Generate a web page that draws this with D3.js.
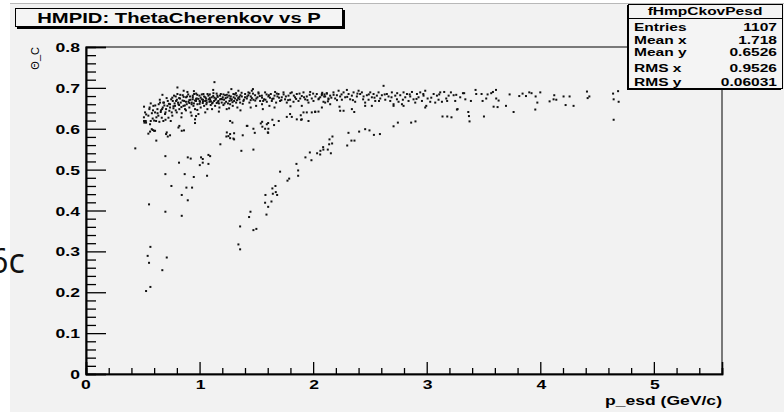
<!DOCTYPE html>
<html><head><meta charset="utf-8">
<script src="https://cdn.jsdelivr.net/npm/d3@7/dist/d3.min.js"></script>
<style>body{margin:0;background:#fff}svg{display:block}text{font-family:"Liberation Sans",Arial,sans-serif}</style>
</head><body><svg id="c" width="784" height="412"></svg>
<script>
const titleText = "HMPID: ThetaCherenkov vs P";
const xLabel = "p_esd (GeV/c)";
const yLabel = "\u0398_C";
const sideText = "6c";
const xTicks = [0, 1, 2, 3, 4, 5];
const xTickLabels = ["0", "1", "2", "3", "4", "5"];
const yTicks = [0, 0.1, 0.2, 0.3, 0.4, 0.5, 0.6, 0.7, 0.8];
const yTickLabels = ["0", "0.1", "0.2", "0.3", "0.4", "0.5", "0.6", "0.7", "0.8"];
const xDomain = [0, 5.6];
const yDomain = [0, 0.8];
const statsTitle = "fHmpCkovPesd";
const statsNames = ["Entries", "Mean x", "Mean y", "RMS x", "RMS y"];
const statsValues = ["1107", "1.718", "0.6526", "0.9526", "0.06031"];

// pion band (p, theta)
const pionBand = [
[0.511,0.654],[0.520,0.640],[0.511,0.619],[0.529,0.615],[0.549,0.632],[0.558,0.648],[0.570,0.619],[0.579,0.599],[0.587,0.625],[0.593,0.656],
[0.599,0.595],[0.608,0.640],[0.617,0.619],[0.629,0.648],[0.637,0.632],[0.646,0.617],[0.652,0.664],[0.658,0.641],[0.667,0.627],[0.676,0.652],
[0.681,0.619],[0.687,0.664],[0.696,0.636],[0.705,0.648],[0.711,0.591],[0.717,0.656],[0.726,0.627],[0.734,0.644],[0.740,0.660],[0.746,0.619],
[0.755,0.640],[0.764,0.668],[0.770,0.650],[0.775,0.681],[0.784,0.656],[0.793,0.668],[0.799,0.640],[0.805,0.685],[0.814,0.660],[0.822,0.648],
[0.828,0.674],[0.834,0.664],[0.843,0.638],[0.852,0.682],[0.858,0.656],[0.864,0.668],[0.872,0.648],[0.881,0.677],[0.887,0.660],[0.893,0.690],
[0.902,0.666],[0.910,0.652],[0.916,0.679],[0.922,0.640],[0.931,0.664],[0.940,0.672],[0.946,0.656],[0.952,0.685],[0.960,0.648],[0.969,0.668],
[0.975,0.674],[0.981,0.660],[0.990,0.636],[0.999,0.681],[1.004,0.666],[1.010,0.652],[1.019,0.672],[1.028,0.663],[1.034,0.685],[1.040,0.656],
[1.049,0.668],[1.057,0.674],[1.063,0.664],[1.069,0.648],[1.078,0.681],[1.087,0.666],[1.093,0.671],[1.098,0.658],[1.107,0.677],[1.116,0.664],
[1.122,0.687],[1.128,0.668],[1.137,0.656],[1.145,0.674],[1.151,0.663],[1.157,0.681],[1.166,0.668],[1.175,0.652],[1.181,0.672],[1.187,0.685],
[1.195,0.664],[1.204,0.677],[1.210,0.658],[1.216,0.671],[1.225,0.682],[1.233,0.666],[1.239,0.648],[1.245,0.677],[1.254,0.689],[1.263,0.668],
[1.269,0.660],[1.275,0.679],[1.283,0.672],[1.292,0.656],[1.298,0.685],[1.304,0.668],[1.313,0.674],[1.322,0.664],[1.327,0.681],[1.333,0.652],
[1.342,0.693],[1.351,0.672],[1.357,0.664],[1.372,0.679],[1.386,0.668],[1.401,0.685],[1.416,0.674],[1.430,0.689],[1.439,0.664],[1.451,0.679],
[1.460,0.693],[1.474,0.671],[1.489,0.682],[1.498,0.656],[1.510,0.677],[1.518,0.689],[1.533,0.668],[1.548,0.681],[1.557,0.648],[1.568,0.672],
[1.577,0.689],[1.592,0.666],[1.606,0.679],[1.615,0.656],[1.627,0.685],[1.636,0.668],[1.651,0.674],[1.665,0.690],[1.674,0.664],[1.686,0.679],
[1.695,0.685],[1.709,0.668],[1.724,0.677],[1.739,0.689],[1.753,0.672],[1.768,0.664],[1.783,0.681],[1.797,0.671],[1.812,0.689],[1.827,0.666],
[1.841,0.677],[1.856,0.685],[1.871,0.668],[1.886,0.674],[1.900,0.656],[1.915,0.689],[1.930,0.672],[1.944,0.679],[1.959,0.664],[1.974,0.690],
[1.988,0.674],[2.003,0.668],[2.018,0.641],[2.032,0.685],[2.047,0.672],[2.062,0.677],[2.076,0.682],[2.091,0.666],[2.106,0.679],[2.120,0.687],
[2.135,0.672],[2.150,0.681],
[2.077,0.685],[2.097,0.679],[2.121,0.686],[2.135,0.674],[2.179,0.689],[2.194,0.674],[2.209,0.682],[2.224,0.693],[2.238,0.679],[2.253,0.671],
[2.268,0.689],[2.282,0.677],[2.297,0.695],[2.312,0.685],[2.326,0.672],[2.341,0.681],[2.356,0.689],[2.370,0.666],[2.385,0.679],[2.400,0.693],
[2.414,0.685],[2.429,0.689],[2.444,0.679],[2.458,0.664],[2.473,0.682],[2.488,0.671],[2.503,0.689],[2.517,0.677],[2.532,0.685],[2.547,0.668],
[2.561,0.681],[2.576,0.689],[2.591,0.674],[2.605,0.682],[2.620,0.705],[2.635,0.671],[2.649,0.685],[2.664,0.679],[2.679,0.668],[2.693,0.689],
[2.708,0.660],[2.723,0.681],[2.738,0.672],[2.752,0.666],[2.767,0.682],[2.782,0.660],[2.796,0.689],[2.811,0.677],[2.826,0.685],[2.840,0.668],
[2.855,0.679],[2.870,0.690],[2.884,0.672],[2.899,0.664],[2.914,0.685],[2.928,0.677],[2.943,0.689],[2.958,0.668],[2.972,0.681],[2.987,0.693],
[2.996,0.656],[3.008,0.674],[3.031,0.666],[3.061,0.685],[3.075,0.664],[3.090,0.681],[3.104,0.671],[3.119,0.689],[3.134,0.666],[3.154,0.690],
[3.172,0.674],[3.193,0.681],[3.213,0.689],[3.237,0.682],[3.251,0.668],[3.272,0.648],[3.295,0.677],[3.319,0.687],[3.340,0.672],
[2.077,0.652],[2.106,0.664],[2.150,0.660],[2.232,0.654],[2.238,0.644],[2.268,0.644],[2.341,0.648],[2.362,0.641],[2.458,0.656],[2.517,0.656],
[2.708,0.656],[2.796,0.656],[2.987,0.652],
[3.330,0.687],[3.389,0.668],[3.430,0.695],[3.436,0.685],[3.483,0.685],[3.492,0.668],[3.524,0.674],[3.536,0.684],[3.568,0.687],[3.583,0.690],
[3.610,0.695],[3.612,0.674],[3.589,0.654],[3.624,0.653],[3.633,0.669],[3.698,0.656],[3.730,0.684],[3.815,0.680],[3.844,0.686],[3.874,0.680],
[3.903,0.689],[3.923,0.687],[3.959,0.679],[3.974,0.664],[4.000,0.689],[4.082,0.667],[4.117,0.672],[4.123,0.682],[4.141,0.671],[4.205,0.679],
[4.223,0.658],[4.258,0.679],[4.293,0.656],[4.411,0.691],[4.417,0.675],[4.432,0.679],[4.641,0.686],[4.646,0.672],[4.685,0.692],[4.690,0.666],
[0.805,0.701],[1.131,0.714],[0.673,0.683]
];

// dense core of the pion band
const pionCore = [
[0.72,0.668],[0.74,0.652],[0.76,0.676],[0.78,0.662],[0.80,0.671],[0.82,0.658],[0.83,0.683],[0.85,0.669],[0.87,0.657],[0.89,0.679],
[0.91,0.663],[0.92,0.671],[0.94,0.681],[0.95,0.662],[0.97,0.673],[0.98,0.683],[1.00,0.668],[1.01,0.676],[1.03,0.671],[1.04,0.679],
[1.06,0.669],[1.07,0.685],[1.09,0.675],[1.11,0.662],[1.12,0.680],[1.14,0.671],[1.16,0.678],[1.17,0.662],[1.19,0.673],[1.21,0.684],
[1.23,0.675],[1.25,0.662],[1.26,0.681],[1.28,0.670],[1.30,0.677],[1.32,0.687],[1.34,0.675],[1.36,0.682],[1.38,0.661],[1.40,0.677],
[1.43,0.682],[1.45,0.670],[1.47,0.686],[1.50,0.674],[1.53,0.680],[1.56,0.668],[1.59,0.684],[1.62,0.676],[1.66,0.681],[1.70,0.676],
[1.74,0.684],[1.78,0.670],[1.83,0.681],[1.88,0.686],[1.92,0.677],[1.97,0.683],[2.02,0.679],[2.08,0.688],[2.13,0.667],[2.18,0.683],
[0.66,0.645],[0.62,0.628],[0.58,0.638],[0.69,0.657],[0.64,0.660],[0.53,0.635],[0.51,0.628],[0.56,0.652],[0.60,0.620],[0.70,0.622]
];

const pionCore2 = [
[0.57,0.662],[0.59,0.645],[0.61,0.657],[0.63,0.638],[0.65,0.671],[0.67,0.648],[0.68,0.664],[0.70,0.640],[0.71,0.675],[0.73,0.661],
[0.75,0.672],[0.77,0.655],[0.79,0.679],[0.81,0.664],[0.82,0.675],[0.84,0.653],[0.86,0.678],[0.88,0.666],[0.90,0.684],[0.91,0.670],
[0.93,0.660],[0.94,0.677],[0.96,0.669],[0.97,0.686],[0.99,0.673],[1.00,0.661],[1.02,0.684],[1.03,0.667],[1.05,0.677],[1.06,0.660],
[1.08,0.672],[1.09,0.684],[1.10,0.667],[1.13,0.676],[1.15,0.686],[1.16,0.665],[1.18,0.681],[1.20,0.672],[1.22,0.662],[1.24,0.683],
[1.27,0.674],[1.29,0.665],[1.31,0.684],[1.33,0.670],[1.35,0.678],[1.37,0.688],[1.39,0.671],[1.42,0.679],[1.44,0.687],[1.46,0.675],
[1.49,0.669],[1.52,0.686],[1.55,0.676],[1.58,0.671],[1.61,0.682],[1.64,0.673],[1.68,0.686],[1.72,0.670],[1.76,0.679],[1.80,0.687],
[1.85,0.673],[1.90,0.680],[1.95,0.670],[2.00,0.686],[2.05,0.674],[2.10,0.684],[2.16,0.676],[2.21,0.670],[2.25,0.684],[2.30,0.678],
[2.35,0.670],[2.39,0.686],[2.44,0.672],[2.49,0.684],[2.54,0.676],[2.58,0.668],[2.63,0.684],[2.69,0.677],[2.74,0.687],[2.79,0.671],
[2.85,0.684],[2.91,0.673],[2.97,0.685],[3.04,0.676],[3.11,0.684],[3.18,0.668],[3.26,0.683],
[0.76,0.632],[0.79,0.645],[0.84,0.628],[0.88,0.645],[0.93,0.632],[0.98,0.646],[1.05,0.640],[1.11,0.648],[1.17,0.642],[1.26,0.650],
[1.36,0.645],[1.45,0.652],[1.55,0.660],[1.66,0.652],[1.80,0.655],[0.95,0.692],[1.12,0.695],[1.28,0.697],[0.86,0.693],[1.47,0.697]
];

// kaon band and strays
const kaonBand = [
[0.434,0.552],[0.699,0.533],[0.819,0.517],[0.896,0.530],[0.922,0.527],[1.013,0.530],[1.028,0.526],[1.028,0.517],[1.002,0.511],[1.078,0.536],
[1.093,0.533],[1.078,0.514],[0.699,0.489],[0.869,0.489],[0.949,0.482],[1.066,0.485],[0.752,0.460],[0.884,0.456],[0.934,0.456],[0.843,0.438],
[0.896,0.425],[0.555,0.415],[0.699,0.397],[0.843,0.387],[0.567,0.311],[0.543,0.289],[0.555,0.272],[0.711,0.285],[0.672,0.254],[0.567,0.213],
[0.529,0.203],[0.619,0.571],[1.183,0.562],[1.368,0.546],[1.474,0.549],[1.269,0.577],[1.236,0.581],[1.304,0.574],[1.380,0.584],[1.601,0.591],
[0.514,0.615],[0.526,0.619],[0.822,0.607],[0.843,0.595],[0.863,0.596],[0.960,0.623],[0.969,0.631],[0.549,0.588],[0.564,0.593],[0.588,0.597],
[0.608,0.595],[0.705,0.587],[0.720,0.581],[0.740,0.584],[1.240,0.591],[1.254,0.582],[1.269,0.587],[1.304,0.589],[1.298,0.576],[1.289,0.615],
[1.416,0.607],[1.474,0.600],[1.768,0.629],[1.812,0.629],[1.891,0.633],[1.900,0.623],[1.944,0.640],[1.988,0.640],[2.018,0.642],[2.047,0.642],
[1.421,0.607],[1.486,0.590],[1.539,0.613],[1.551,0.617],[1.553,0.605],[1.577,0.600],[1.592,0.611],[1.604,0.614],[1.604,0.590],[1.606,0.600],
[1.641,0.622],[1.656,0.609],[1.697,0.619],[1.894,0.622],[1.959,0.619],[1.269,0.619],[0.564,0.611],[0.960,0.614],[0.814,0.603],[1.915,0.640],
[1.797,0.636],[1.856,0.623]
];

// proton band
const protonBand = [
[1.709,0.495],[1.774,0.473],[1.789,0.478],[1.668,0.460],[1.641,0.454],[1.671,0.445],[1.645,0.441],[1.683,0.438],[1.580,0.438],[1.633,0.422],
[1.577,0.419],[1.604,0.409],[1.589,0.390],[1.448,0.397],[1.436,0.384],[1.357,0.361],[1.500,0.355],[1.474,0.352],[1.342,0.317],[1.357,0.305],
[1.853,0.514],[1.868,0.498],[1.868,0.485],[1.932,0.530],[1.985,0.523],[1.971,0.542],[2.035,0.540],[2.062,0.537],[2.064,0.546],[2.090,0.549],
[2.088,0.555],[2.129,0.549],[2.156,0.540],[2.141,0.562],[2.144,0.574],[2.167,0.564],[2.170,0.581],[2.311,0.590],[2.300,0.559],[2.337,0.571],
[2.364,0.571],[2.405,0.593],[2.458,0.599],[2.496,0.596],[2.535,0.585],[2.588,0.587],[2.708,0.606],[2.746,0.615],[2.863,0.615],[2.901,0.618],
[3.377,0.618],[3.139,0.630],[3.181,0.630],[3.218,0.628],[3.372,0.631],[3.504,0.630],[3.266,0.647],[3.366,0.641],[3.765,0.641],[3.956,0.647],
[4.646,0.622]
];

const W = 784, H = 412;
const frame = {left: 86, right: 722, top: 47, bottom: 374};
const STRETCH = 1.35;
const svg = d3.select("#c");

function stretch(sel, k) {
  sel.each(function () {
    const w = this.getComputedTextLength();
    d3.select(this).attr("textLength", w * (k || STRETCH)).attr("lengthAdjust", "spacingAndGlyphs");
  });
}

// background
svg.append("rect").attr("x", 0).attr("y", 0).attr("width", W).attr("height", H).attr("fill", "#ffffff");
svg.append("rect").attr("x", 10).attr("y", 3).attr("width", W - 10).attr("height", H - 3).attr("fill", "#f2f2f2");
svg.append("line").attr("x1", 10).attr("x2", W).attr("y1", 3.5).attr("y2", 3.5).attr("stroke", "#b8b8b8");

// slide text behind (cut at the left edge, as in the picture)
svg.append("text").attr("x", -11).attr("y", 273).attr("font-size", 34)
  .style("font-family", "'Open Sans','Liberation Sans',sans-serif").attr("fill", "#111").text(sideText);

const x = d3.scaleLinear().domain(xDomain).range([frame.left, frame.right]);
const y = d3.scaleLinear().domain(yDomain).range([frame.bottom, frame.top]);

// frame
svg.append("rect").attr("x", frame.left).attr("y", frame.top)
  .attr("width", frame.right - frame.left).attr("height", frame.bottom - frame.top)
  .attr("fill", "#f2f2f2").attr("stroke", "#000").attr("stroke-width", 1);

// minor ticks
const xMinor = d3.range(0, 5.61, 0.2).filter(v => Math.abs(v - Math.round(v)) > 1e-6);
const yMinor = d3.range(0, 0.801, 0.02).filter(v => Math.abs(v * 10 - Math.round(v * 10)) > 1e-6);

const gx = svg.append("g").attr("transform", `translate(0,${frame.bottom})`);
gx.call(d3.axisBottom(x).tickValues(xMinor).tickSize(-6).tickFormat(""));
gx.append("g").call(d3.axisBottom(x).tickValues(xTicks).tickSize(-12).tickFormat(""));
gx.selectAll(".domain").attr("stroke", "#000").attr("stroke-width", 1.6);
gx.selectAll(".tick line").attr("stroke", "#000").attr("stroke-width", 1.3);

const gy = svg.append("g").attr("transform", `translate(${frame.left},0)`);
gy.call(d3.axisLeft(y).tickValues(yMinor).tickSize(-10).tickFormat(""));
gy.append("g").call(d3.axisLeft(y).tickValues(yTicks).tickSize(-20).tickFormat(""));
gy.selectAll(".domain").attr("stroke", "#000").attr("stroke-width", 1.6);
gy.selectAll(".tick line").attr("stroke", "#000").attr("stroke-width", 1.3);

// tick labels
const yl = svg.append("g").selectAll("text").data(yTicks).join("text")
  .attr("x", 80).attr("y", d => y(d) + 5).attr("text-anchor", "end")
  .attr("font-size", 13).attr("font-weight", "bold").attr("fill", "#000")
  .text((d, i) => yTickLabels[i]);
stretch(yl);
const xl = svg.append("g").selectAll("text").data(xTicks).join("text")
  .attr("x", d => x(d) + (d === 0 ? 0 : 1)).attr("y", frame.bottom + 15).attr("text-anchor", "middle")
  .attr("font-size", 13).attr("font-weight", "bold").attr("fill", "#000")
  .text((d, i) => xTickLabels[i]);
stretch(xl);

// axis titles
const xt = svg.append("text").attr("x", frame.right).attr("y", 405).attr("text-anchor", "end")
  .attr("font-size", 13).attr("font-weight", "bold").text(xLabel);
stretch(xt);
svg.append("text").attr("transform", `translate(39,${frame.top}) rotate(-90)`).attr("text-anchor", "end")
  .attr("font-size", 11).text(yLabel);

// points
const all = [].concat(pionBand, pionCore, pionCore2, kaonBand, protonBand);
svg.append("g").selectAll("rect").data(all).join("rect")
  .attr("x", d => x(d[0]) - 1).attr("y", d => y(d[1]) - 1)
  .attr("width", 2).attr("height", 2).attr("fill", "#111");

// title box
svg.append("rect").attr("x", 17).attr("y", 10).attr("width", 328).attr("height", 19).attr("fill", "#000");
svg.append("rect").attr("x", 15.5).attr("y", 8.5).attr("width", 327).attr("height", 18).attr("fill", "#f4f4f4").attr("stroke", "#000");
const tt = svg.append("text").attr("x", 179).attr("y", 23).attr("text-anchor", "middle")
  .attr("font-size", 15).attr("font-weight", "bold").text(titleText);
stretch(tt);

// stats box
const sb = {x: 628, y: 4, w: 154, h: 84};
svg.append("rect").attr("x", sb.x - 1).attr("y", sb.y + 1).attr("width", sb.w).attr("height", sb.h + 1).attr("fill", "#000");
svg.append("rect").attr("x", sb.x + 0.5).attr("y", sb.y + 0.5).attr("width", sb.w).attr("height", sb.h).attr("fill", "#f4f4f4").attr("stroke", "#000");
svg.append("line").attr("x1", sb.x).attr("x2", sb.x + sb.w).attr("y1", 18.5).attr("y2", 18.5).attr("stroke", "#000");
const sh = svg.append("text").attr("x", sb.x + sb.w / 2).attr("y", 15).attr("text-anchor", "middle")
  .attr("font-size", 11.5).attr("font-weight", "bold").text(statsTitle);
stretch(sh);
const rowY = [31, 44, 56, 72, 86];
const sn = svg.append("g").selectAll("text").data(statsNames).join("text")
  .attr("x", sb.x + 6).attr("y", (d, i) => rowY[i]).attr("font-size", 11.5).attr("font-weight", "bold").text(d => d);
stretch(sn);
const sv = svg.append("g").selectAll("text").data(statsValues).join("text")
  .attr("x", sb.x + sb.w - 5).attr("y", (d, i) => rowY[i]).attr("text-anchor", "end")
  .attr("font-size", 11.5).attr("font-weight", "bold").text(d => d);
stretch(sv);
</script></body></html>
